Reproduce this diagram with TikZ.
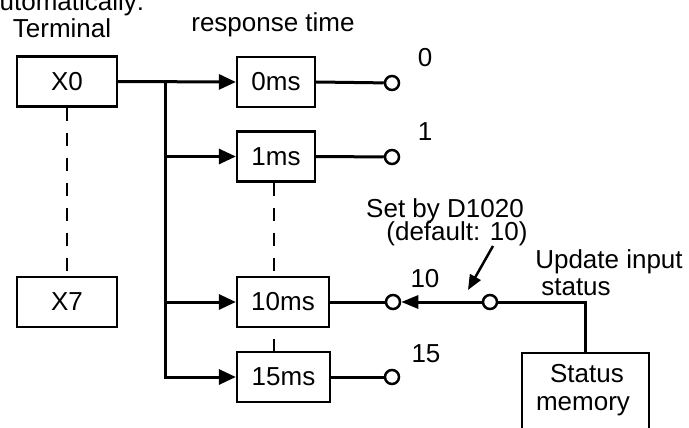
\documentclass[tikz,border=0pt]{standalone}
\usepackage{fontspec}
\setmainfont{Liberation Sans}
\usetikzlibrary{arrows.meta}
\begin{document}
\begin{tikzpicture}[x=1pt,y=-1pt,
  font=\fontsize{26}{28}\selectfont,
  box/.style={draw, line width=2.3pt, fill=white, inner sep=0pt, minimum height=50pt},
  conn/.style={line width=3pt},
  pin/.style={circle, draw, line width=2.5pt, fill=white, minimum size=14pt, inner sep=0pt},
  arr/.style={-{Triangle[length=17pt,width=15pt]}},
  dsh/.style={line width=2.5pt, dash pattern=on 13pt off 12pt},
  lbl/.style={anchor=base, inner sep=0pt}]
\useasboundingbox (0,0) rectangle (689,428);

% texts at top
\node[lbl, anchor=base west] (auto) at (-15,11) {automatically:};
\node[lbl] (term) at (62,38) {Terminal};
\node[lbl] (resp) at (273,32) {response time};

% terminal boxes
\node[box, minimum width=100pt] (X0) at (67,81.5) {X0};
\node[box, minimum width=100pt] (X7) at (67,302) {X7};
\draw[dsh] (X0.south) -- (X7.north);

% response time boxes
\node[box, minimum width=78pt] (b0) at (276,82) {0ms};
\node[box, minimum width=78pt] (b1) at (276,156.5) {1ms};
\node[box, minimum width=92pt] (b10) at (283,302) {10ms};
\node[box, minimum width=93pt] (b15) at (283.5,377) {15ms};
\draw[dsh] (b1.south -| 274,0) -- (b10.north -| 274,0);
\draw[line width=2.5pt] ([yshift=-11pt]b10.south -| 274,0) -- (b15.north -| 274,0);

% branch
\coordinate (br) at (165.5,82);
\draw[conn, arr] (X0.east) -- (b0.west);
\draw[conn, arr] (br) |- (b15.west);
\draw[conn, arr] (br |- b1.west) -- (b1.west);
\draw[conn, arr] (br |- b10.west) -- (b10.west);

% output pins
\node[pin] (c0) at (392,83) {};
\node[pin] (c1) at (392,157) {};
\node[pin] (c10) at (393,302) {};
\node[pin] (c15) at (392,377) {};
\draw[conn] (b0.east) -- (c0);
\draw[conn] (b1.east) -- (c1);
\draw[conn] (b10.east) -- (c10);
\draw[conn] (b15.east) -- (c15);

\node[lbl] (l0) at (425,67) {0};
\node[lbl] (l1) at (425,140) {1};
\node[lbl] (l10) at (425,287) {10};
\node[lbl] (l15) at (426,362) {15};

% selector switch
\node[pin] (sw) at (490,302) {};
\draw[conn, -{Triangle[length=17pt,width=13pt]}] (sw) -- (c10);

\node[lbl] (setby) at (445,217) {Set by D1020};
\node[lbl] (dflt) at (457,240) {(default: 10)};
\coordinate (dstart) at (493,246);
\coordinate (dtip) at (468,290);
\draw[line width=2.5pt, -{Triangle[length=15pt,width=12pt]}] (dstart) -- (dtip);

\node[lbl] (upd) at (609,268) {Update input};
\node[lbl] (stat) at (576,295) {status};

% status memory
\node[box, minimum width=127pt, minimum height=90pt, anchor=north] (sm) at (585.5,352) {};
\node[lbl] (smt1) at (587,382) {Status};
\node[lbl] (smt2) at (583,410) {memory};
\draw[conn, line join=miter] (sw.east) -| (sm.north);
\end{tikzpicture}
\end{document}
